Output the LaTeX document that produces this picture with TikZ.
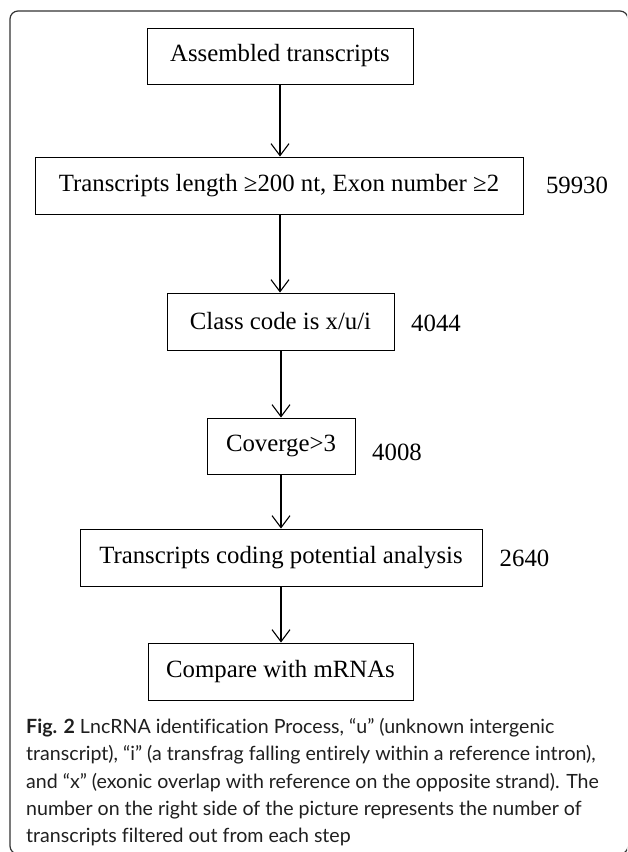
\documentclass[tikz,border=0pt]{standalone}
\usepackage{fontspec}
\setmainfont{Liberation Serif}
\newfontfamily\capfont[Ligatures={NoCommon}]{Lato}
\usetikzlibrary{arrows.meta}
\begin{document}
\begin{tikzpicture}[x=1pt,y=-1pt,
  stepbox/.style={draw, line width=1pt, inner sep=0pt, font=\fontsize{24.8}{28}\selectfont},
  num/.style={inner sep=0pt, font=\fontsize{24.8}{28}\selectfont},
  flow/.style={line width=1.1pt, -{Straight Barb[length=12pt,width=18pt,line width=1.1pt]}},
  capline/.style={anchor=base west, inner sep=0pt, text=black!88, font=\capfont\fontsize{19.6}{27}\selectfont}]
\useasboundingbox (0,0) rectangle (627,852);
\clip (0,0) rectangle (627,852);
\draw[line width=1.2pt, rounded corners=8pt, black!80] (10,11) rectangle (628,854);

\node[stepbox, minimum width=266pt, minimum height=56pt] (b1) at (280,56) {Assembled transcripts};
\node[stepbox, minimum width=488pt, minimum height=57pt] (b2) at (279,185.5) {Transcripts length ≥200 nt, Exon number ≥2};
\node[stepbox, minimum width=227pt, minimum height=57pt] (b3) at (280.5,321.5) {Class code is x/u/i};
\node[stepbox, minimum width=148pt, minimum height=56pt] (b4) at (281,446) {Coverge>3};
\node[stepbox, minimum width=402pt, minimum height=57pt] (b5) at (281,557.5) {Transcripts coding potential analysis};
\node[stepbox, minimum width=265pt, minimum height=57pt] (b6) at (280.5,671.5) {Compare with mRNAs};

\node[num] (n2) at (577,185) {59930};
\node[num] (n3) at (436,323) {4044};
\node[num] (n4) at (397,452) {4008};
\node[num] (n5) at (524.5,558) {2640};

\draw[flow] (b1.south) -- (b1.south |- b2.north);
\draw[flow] (b1.south |- b2.south) -- (b1.south |- b3.north);
\draw[flow] (b4.south |- b3.south) -- (b4.north);
\draw[flow] (b4.south) -- (b5.north);
\draw[flow] (b5.south) -- (b5.south |- b6.north);

\node[capline] (c1) at (26,733.5) {\textbf{Fig. 2} LncRNA identification Process, “u” (unknown intergenic};
\node[capline] (c2) at (26,760.8) {transcript), “i” (a transfrag falling entirely within a reference intron),};
\node[capline] (c3) at (26,788) {and “x” (exonic overlap with reference on the opposite strand). The};
\node[capline] (c4) at (26,815.3) {number on the right side of the picture represents the number of};
\node[capline] (c5) at (26,842.5) {transcripts filtered out from each step};
\end{tikzpicture}
\end{document}
